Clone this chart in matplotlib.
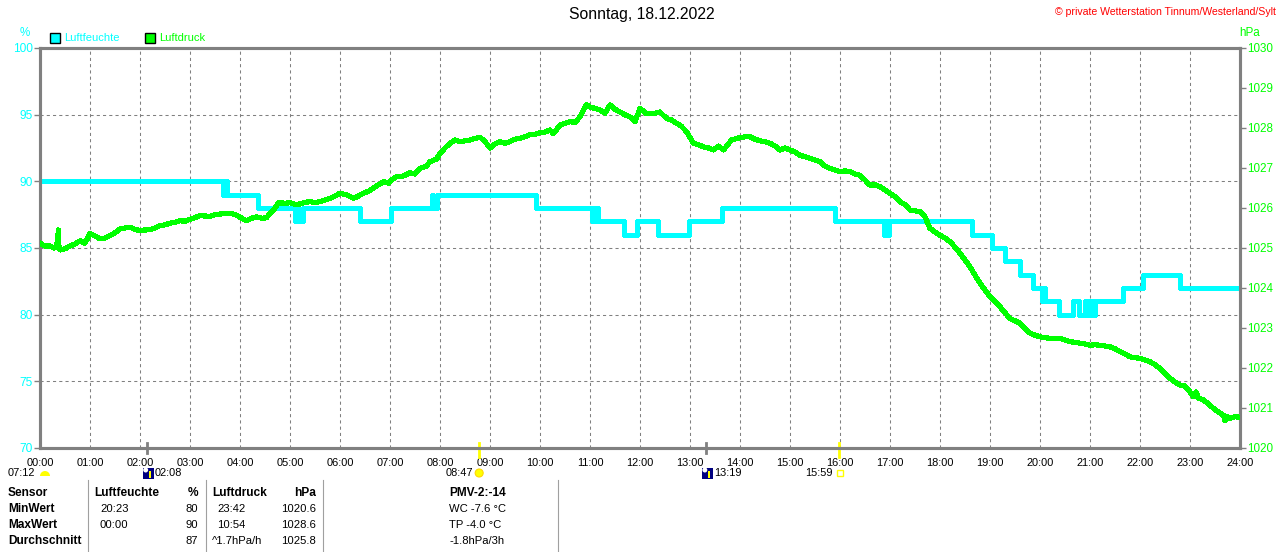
import matplotlib
matplotlib.use("Agg")
import matplotlib.pyplot as plt
from matplotlib.patches import Rectangle, Circle, Wedge
from matplotlib.transforms import IdentityTransform

plt.rcParams['font.family'] = ['Liberation Sans', 'DejaVu Sans']

W, H = 1280, 552

# humidity (%), step changes: start hour and value
hum_t = [0.00, 3.65, 3.70, 3.74, 4.36, 5.10, 5.14, 5.17, 5.25, 6.40, 7.01, 7.83, 7.86, 7.93,
         9.92, 11.03, 11.07, 11.10, 11.13, 11.16, 11.68, 11.93, 12.35, 12.97, 13.63, 15.90,
         16.87, 16.92, 16.94, 16.97, 18.65, 19.03, 19.31, 19.60, 19.86, 20.03, 20.06, 20.09,
         20.38, 20.65, 20.78, 20.90, 20.94, 20.97, 21.00, 21.04, 21.07, 21.10, 21.65, 22.05,
         22.79, 24.00]
hum_v = [90, 89, 90, 89, 88, 87, 88, 87, 88, 87, 88, 89, 88, 89,
         88, 87, 88, 87, 88, 87, 86, 87, 86, 87, 88, 87,
         86, 87, 86, 87, 86, 85, 84, 83, 82, 81, 82, 81,
         80, 81, 80, 81, 80, 81, 80, 81, 80, 81, 82, 83,
         82, 82]

# air pressure (hPa)
pres_t = [0.00, 0.10, 0.20, 0.27, 0.33, 0.37, 0.38, 0.40, 0.50, 0.60, 0.70, 0.80, 0.90, 1.00,
          1.10, 1.20, 1.30, 1.40, 1.50, 1.60, 1.70, 1.80, 1.90, 2.00, 2.10, 2.20, 2.30, 2.40,
          2.50, 2.60, 2.70, 2.80, 2.90, 3.00, 3.10, 3.20, 3.30, 3.40, 3.50, 3.60, 3.70, 3.80,
          3.90, 4.00, 4.13, 4.25, 4.33, 4.45, 4.53, 4.67, 4.77, 4.90, 5.00, 5.10, 5.20, 5.30,
          5.40, 5.50, 5.60, 5.70, 5.80, 5.90, 6.00, 6.13, 6.27, 6.37, 6.47, 6.57, 6.67, 6.77,
          6.87, 6.97, 7.03, 7.13, 7.27, 7.40, 7.50, 7.60, 7.73, 7.80, 7.93, 8.00, 8.10, 8.20,
          8.30, 8.40, 8.50, 8.60, 8.70, 8.80, 8.90, 9.00, 9.10, 9.20, 9.30, 9.40, 9.50, 9.60,
          9.70, 9.80, 9.90, 10.00, 10.10, 10.20, 10.27, 10.40, 10.50, 10.60, 10.70, 10.80,
          10.87, 10.93, 11.00, 11.07, 11.20, 11.30, 11.40, 11.50, 11.60, 11.70, 11.80, 11.90,
          12.00, 12.13, 12.27, 12.40, 12.53, 12.63, 12.73, 12.83, 12.93, 13.07, 13.17, 13.27,
          13.37, 13.47, 13.57, 13.67, 13.83, 14.00, 14.10, 14.20, 14.30, 14.40, 14.50, 14.60,
          14.70, 14.80, 14.90, 15.00, 15.10, 15.20, 15.30, 15.40, 15.50, 15.60, 15.70, 15.80,
          15.90, 16.00, 16.10, 16.20, 16.30, 16.40, 16.50, 16.60, 16.70, 16.80, 16.90, 17.00,
          17.10, 17.20, 17.30, 17.40, 17.50, 17.60, 17.70, 17.80, 17.90, 18.00, 18.10, 18.20,
          18.30, 18.40, 18.50, 18.60, 18.70, 18.80, 18.90, 19.00, 19.10, 19.20, 19.30, 19.40,
          19.50, 19.60, 19.70, 19.80, 19.90, 20.00, 20.10, 20.20, 20.30, 20.40, 20.50, 20.60,
          20.70, 20.80, 20.90, 21.00, 21.10, 21.20, 21.30, 21.40, 21.50, 21.60, 21.70, 21.80,
          21.90, 22.00, 22.10, 22.20, 22.30, 22.40, 22.50, 22.60, 22.70, 22.80, 22.90, 23.00,
          23.07, 23.12, 23.17, 23.27, 23.37, 23.47, 23.57, 23.67, 23.70, 23.75, 23.80, 23.90,
          24.00]
pres_v = [1025.12, 1025.05, 1025.05, 1025.00, 1025.02, 1025.45, 1025.00, 1024.95, 1024.98,
          1025.05, 1025.10, 1025.18, 1025.12, 1025.36, 1025.30, 1025.23, 1025.25, 1025.31,
          1025.38, 1025.48, 1025.50, 1025.52, 1025.46, 1025.44, 1025.45, 1025.46, 1025.50,
          1025.56, 1025.58, 1025.62, 1025.64, 1025.68, 1025.67, 1025.72, 1025.76, 1025.81,
          1025.80, 1025.79, 1025.83, 1025.85, 1025.86, 1025.87, 1025.84, 1025.77, 1025.68,
          1025.75, 1025.78, 1025.74, 1025.76, 1025.95, 1026.13, 1026.12, 1026.13, 1026.09,
          1026.10, 1026.14, 1026.16, 1026.13, 1026.16, 1026.20, 1026.24, 1026.30, 1026.37,
          1026.33, 1026.24, 1026.30, 1026.37, 1026.42, 1026.50, 1026.58, 1026.66, 1026.62,
          1026.70, 1026.78, 1026.80, 1026.88, 1026.85, 1026.99, 1027.05, 1027.16, 1027.22,
          1027.37, 1027.50, 1027.62, 1027.70, 1027.66, 1027.68, 1027.70, 1027.74, 1027.77,
          1027.66, 1027.50, 1027.60, 1027.66, 1027.62, 1027.66, 1027.72, 1027.74, 1027.78,
          1027.84, 1027.84, 1027.88, 1027.90, 1027.95, 1027.86, 1028.07, 1028.12, 1028.16,
          1028.14, 1028.28, 1028.45, 1028.58, 1028.52, 1028.50, 1028.45, 1028.37, 1028.58,
          1028.47, 1028.40, 1028.33, 1028.28, 1028.16, 1028.49, 1028.36, 1028.36, 1028.40,
          1028.24, 1028.20, 1028.12, 1028.04, 1027.91, 1027.62, 1027.58, 1027.53, 1027.50,
          1027.45, 1027.55, 1027.45, 1027.70, 1027.76, 1027.78, 1027.78, 1027.72, 1027.68,
          1027.66, 1027.62, 1027.55, 1027.45, 1027.50, 1027.45, 1027.40, 1027.32, 1027.28,
          1027.24, 1027.20, 1027.16, 1027.05, 1026.99, 1026.95, 1026.91, 1026.93, 1026.91,
          1026.85, 1026.82, 1026.70, 1026.57, 1026.58, 1026.53, 1026.45, 1026.37, 1026.28,
          1026.16, 1026.08, 1025.95, 1025.93, 1025.91, 1025.78, 1025.49, 1025.40, 1025.32,
          1025.25, 1025.16, 1025.02, 1024.87, 1024.70, 1024.53, 1024.32, 1024.12, 1023.95,
          1023.78, 1023.66, 1023.53, 1023.38, 1023.24, 1023.18, 1023.12, 1022.98, 1022.87,
          1022.82, 1022.78, 1022.76, 1022.74, 1022.74, 1022.74, 1022.70, 1022.66, 1022.64,
          1022.62, 1022.60, 1022.57, 1022.58, 1022.57, 1022.55, 1022.53, 1022.48, 1022.41,
          1022.35, 1022.28, 1022.26, 1022.24, 1022.20, 1022.16, 1022.08, 1021.99, 1021.86,
          1021.74, 1021.65, 1021.57, 1021.55, 1021.40, 1021.28, 1021.40, 1021.25, 1021.20,
          1021.10, 1020.99, 1020.90, 1020.82, 1020.68, 1020.78, 1020.74, 1020.78, 1020.77]

hour_labels = ["%02d:00" % h for h in range(25)]
hum_ticks = [70, 75, 80, 85, 90, 95, 100]
pres_ticks = list(range(1020, 1031))

# sun / moon events (hour, label)
moon_events = [(2 + 8 / 60, "02:08"), (13 + 19 / 60, "13:19")]
sun_events = [(8 + 47 / 60, "08:47"), (15 + 59 / 60, "15:59")]
dawn_label = "07:12"

# statistics table
table_rows = ["Sensor", "MinWert", "MaxWert", "Durchschnitt"]
hum_col = [("Luftfeuchte", "%"), ("20:23", "80"), ("00:00", "90"), ("", "87")]
pres_col = [("Luftdruck", "hPa"), ("23:42", "1020.6"), ("10:54", "1028.6"), ("^1.7hPa/h", "1025.8")]
pmv_col = ["PMV-2:-14", "WC -7.6 °C", "TP -4.0 °C", "-1.8hPa/3h"]

CYAN = "#00ffff"
GREEN = "#00ff00"
GRAY = "#808080"
YELLOW = "#ffff00"


def fx(x):
    return x / W


def fy(y):
    return 1 - y / H


PIX = IdentityTransform()


def pix_patch(patch):
    # patch given in pixel coords measured from the bottom-left corner
    patch.set_transform(PIX)
    fig.add_artist(patch)


fig = plt.figure(figsize=(12.8, 5.52), dpi=100)
ax = fig.add_axes([fx(40), fy(448), 1200 / W, 400 / H])
ax2 = ax.twinx()

ax.set_xlim(0, 24)
ax.set_ylim(70, 100)
ax2.set_ylim(1020, 1030)

ax.grid(True, color=GRAY, linestyle=(0, (3, 3)), linewidth=0.75)
ax.set_axisbelow(True)

ax.plot(hum_t, hum_v, drawstyle="steps-post", color=CYAN, lw=2.4, antialiased=False, zorder=3)
ax2.plot(pres_t, pres_v, color=GREEN, lw=3.0, antialiased=False, zorder=3)

for a in (ax, ax2):
    for s in a.spines.values():
        s.set_color(GRAY)
        s.set_linewidth(2.2)

ax.set_xticks(range(25))
ax.set_xticklabels(hour_labels, fontsize=7.9)
ax.tick_params(axis="x", length=0, pad=7.5, colors="black")
ax.set_yticks(hum_ticks)
ax.tick_params(axis="y", length=4, width=1, color=GRAY, labelcolor=CYAN, labelsize=8.6, pad=1)
ax2.set_yticks(pres_ticks)
ax2.tick_params(axis="y", length=4, width=1, color=GRAY, labelcolor=GREEN, labelsize=8.4, pad=1)

# event marks on the time axis
xt = ax.get_xaxis_transform()
for h, _ in moon_events:
    ax.plot([h, h], [-0.012, 0.012], color=GRAY, lw=2, transform=xt, clip_on=False, zorder=5)
for h, _ in sun_events:
    ax.plot([h, h], [-0.022, 0.012], color=YELLOW, lw=2, transform=xt, clip_on=False, zorder=5)

# titles and labels
fig.text(fx(642), fy(15), "Sonntag, 18.12.2022", ha="center", va="center", fontsize=11.3)
fig.text(fx(1276), fy(12), "© private Wetterstation Tinnum/Westerland/Sylt", ha="right",
         va="center", fontsize=7.6, color="red")
fig.text(fx(25), fy(33), "%", ha="center", va="center", fontsize=8.4, color=CYAN)
fig.text(fx(1250), fy(33), "hPa", ha="center", va="center", fontsize=8.4, color=GREEN)

# legend
for x0, col, name in [(50, CYAN, "Luftfeuchte"), (145, GREEN, "Luftdruck")]:
    fig.add_artist(Rectangle((fx(x0), fy(43)), 10 / W, 10 / H, transform=fig.transFigure,
                             facecolor=col, edgecolor="black", lw=1))
    fig.text(fx(x0 + 14), fy(38), name, ha="left", va="center", fontsize=8, color=col)

# sun / moon row below the axis
ty = 473
fig.text(fx(8), fy(ty), dawn_label, ha="left", va="center", fontsize=7.9)
pix_patch(Wedge((45, H - 476), 5, 0, 180, facecolor=YELLOW, edgecolor="none"))
for h, lab in moon_events:
    x = 40 + h * 50
    pix_patch(Rectangle((x - 4, H - 479), 11, 11, facecolor="#000080", edgecolor="none"))
    pix_patch(Circle((x - 1, H - 470), 2.5, facecolor="white", edgecolor="none"))
    pix_patch(Rectangle((x + 2, H - 478), 2, 7, facecolor=YELLOW, edgecolor="none"))
    fig.text(fx(x + 8), fy(ty), lab, ha="left", va="center", fontsize=7.9)
h, lab = sun_events[0]
x = 40 + h * 50
fig.text(fx(x - 6), fy(ty), lab, ha="right", va="center", fontsize=7.9)
pix_patch(Circle((x, H - ty), 4, facecolor=YELLOW, edgecolor="#ffd800", lw=0.8))
h, lab = sun_events[1]
x = 40 + h * 50
fig.text(fx(x - 7), fy(ty), lab, ha="right", va="center", fontsize=7.9)
pix_patch(Rectangle((x - 2, H - ty - 3), 6, 6, facecolor="none", edgecolor=YELLOW, lw=1))

# statistics table
row_y = [493, 509, 525, 541]
for i, y in enumerate(row_y):
    bold = "bold" if i == 0 else "normal"
    fs = 8.6 if i == 0 else 8.1
    fig.text(fx(8), fy(y), table_rows[i], ha="left", va="center", fontsize=8.6, fontweight="bold")
    a, b = hum_col[i]
    fig.text(fx(94 if i == 0 else 100), fy(y), a, ha="left", va="center", fontsize=fs, fontweight=bold)
    fig.text(fx(198), fy(y), b, ha="right", va="center", fontsize=fs, fontweight=bold)
    a, b = pres_col[i]
    fig.text(fx(212 if i in (0, 3) else 217), fy(y), a, ha="left", va="center", fontsize=fs,
             fontweight=bold)
    fig.text(fx(316), fy(y), b, ha="right", va="center", fontsize=fs, fontweight=bold)
    fig.text(fx(449), fy(y), pmv_col[i], ha="left", va="center", fontsize=fs, fontweight=bold)

for x in [88, 206, 323, 558]:
    fig.add_artist(plt.Line2D([fx(x), fx(x)], [fy(480), fy(552)], transform=fig.transFigure,
                              color="#a0a0a0", lw=0.8))

fig.savefig("out.png", dpi=100)
